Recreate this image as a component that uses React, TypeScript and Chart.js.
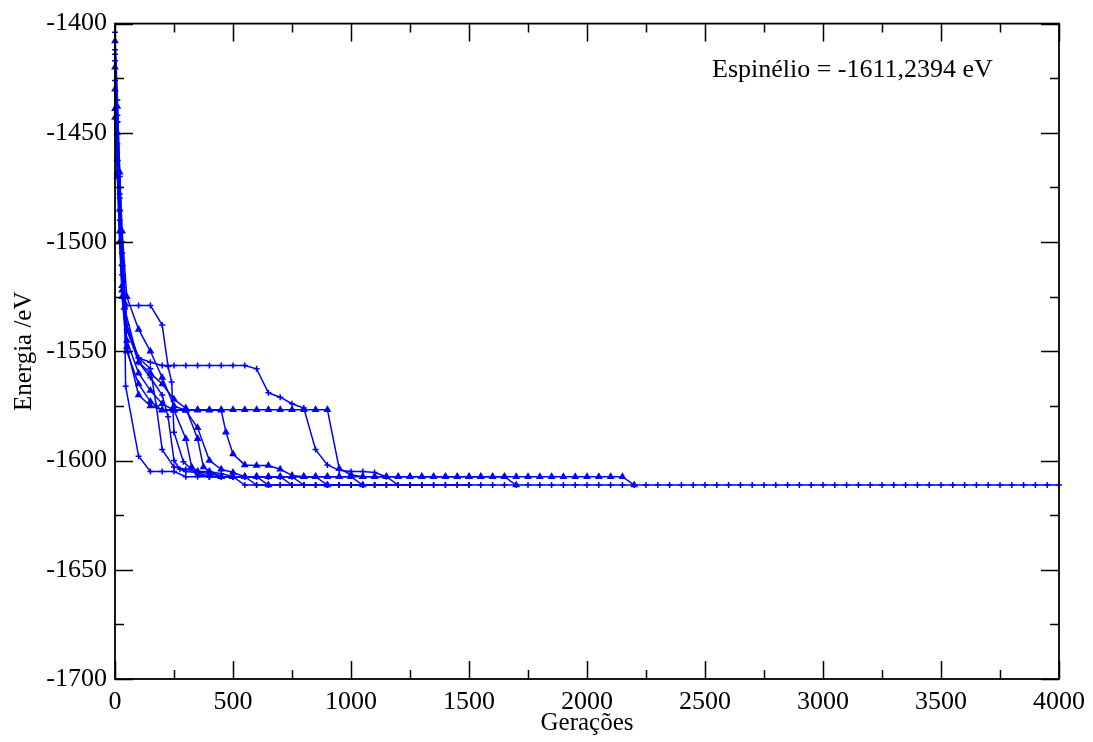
import React, { useEffect, useRef } from "react";
import { Chart, registerables } from "chart.js";
Chart.register(...registerables);

// ---- axis / tick definitions ----
const X_MIN = 0;
const X_MAX = 4000;
const X_MAJOR = 500;
const X_MINOR = 250;
const Y_MIN = -1700;
const Y_MAX = -1400;
const Y_MAJOR = 50;
const Y_MINOR = 25;

const X_TITLE = "Gerações";
const Y_TITLE = "Energia /eV";
const NOTE = "Espinélio = -1611,2394 eV";

// ---- read-off energy levels ----
const E_FINAL = -1611.24;
const E_LEVEL = -1607.4;

type Pt = [number, number];

// run that reaches the spinel minimum first and extends to 4000 generations
const runLong: Pt[] = [
  [0, -1412], [10, -1445], [20, -1478], [30, -1500], [40, -1525], [45, -1566], [100, -1598],
  [150, -1605], [200, -1605], [250, -1605], [300, E_LEVEL], [350, E_LEVEL], [400, E_LEVEL],
  [450, E_LEVEL], [500, E_LEVEL], [550, E_FINAL], [600, E_FINAL], [650, E_FINAL], [700, E_FINAL],
  [750, E_FINAL], [800, E_FINAL], [850, E_FINAL], [900, E_FINAL], [950, E_FINAL], [1000, E_FINAL],
  [1050, E_FINAL], [1100, E_FINAL], [1150, E_FINAL], [1200, E_FINAL], [1250, E_FINAL], [1300, E_FINAL],
  [1350, E_FINAL], [1400, E_FINAL], [1450, E_FINAL], [1500, E_FINAL], [1550, E_FINAL], [1600, E_FINAL],
  [1650, E_FINAL], [1700, E_FINAL], [1750, E_FINAL], [1800, E_FINAL], [1850, E_FINAL], [1900, E_FINAL],
  [1950, E_FINAL], [2000, E_FINAL], [2050, E_FINAL], [2100, E_FINAL], [2150, E_FINAL], [2200, E_FINAL],
  [2250, E_FINAL], [2300, E_FINAL], [2350, E_FINAL], [2400, E_FINAL], [2450, E_FINAL], [2500, E_FINAL],
  [2550, E_FINAL], [2600, E_FINAL], [2650, E_FINAL], [2700, E_FINAL], [2750, E_FINAL], [2800, E_FINAL],
  [2850, E_FINAL], [2900, E_FINAL], [2950, E_FINAL], [3000, E_FINAL], [3050, E_FINAL], [3100, E_FINAL],
  [3150, E_FINAL], [3200, E_FINAL], [3250, E_FINAL], [3300, E_FINAL], [3350, E_FINAL], [3400, E_FINAL],
  [3450, E_FINAL], [3500, E_FINAL], [3550, E_FINAL], [3600, E_FINAL], [3650, E_FINAL], [3700, E_FINAL],
  [3750, E_FINAL], [3800, E_FINAL], [3850, E_FINAL], [3900, E_FINAL], [3950, E_FINAL], [4000, E_FINAL],
];

// run sitting on the -1607 level until ~2150
const run1: Pt[] = [
  [0, -1443], [10, -1470], [20, -1500], [30, -1520], [50, -1545], [100, -1560], [150, -1568], [200, -1574],
  [250, -1577], [300, -1590], [325, -1603], [350, -1605], [400, -1606], [450, E_LEVEL], [500, E_LEVEL],
  [550, E_LEVEL], [600, E_LEVEL], [650, E_LEVEL], [700, E_LEVEL], [750, E_LEVEL], [800, E_LEVEL],
  [850, E_LEVEL], [900, E_LEVEL], [950, E_LEVEL], [1000, E_LEVEL], [1050, E_LEVEL], [1100, E_LEVEL],
  [1150, E_LEVEL], [1200, E_LEVEL], [1250, E_LEVEL], [1300, E_LEVEL], [1350, E_LEVEL], [1400, E_LEVEL],
  [1450, E_LEVEL], [1500, E_LEVEL], [1550, E_LEVEL], [1600, E_LEVEL], [1650, E_LEVEL], [1700, E_LEVEL],
  [1750, E_LEVEL], [1800, E_LEVEL], [1850, E_LEVEL], [1900, E_LEVEL], [1950, E_LEVEL], [2000, E_LEVEL],
  [2050, E_LEVEL], [2100, E_LEVEL], [2150, E_LEVEL], [2200, E_FINAL],
];

// run with the early -1529 plateau
const run2: Pt[] = [
  [0, -1417], [10, -1445], [20, -1480], [30, -1505], [40, -1525], [50, -1529], [100, -1529], [150, -1529],
  [200, -1538], [225, -1557], [240, -1564], [250, -1587], [290, -1600.6], [350, -1606.6],
  [400, E_LEVEL], [450, E_LEVEL], [500, E_LEVEL], [550, E_LEVEL], [600, E_FINAL], [650, E_FINAL],
  [700, E_FINAL], [750, E_FINAL], [800, E_FINAL], [850, E_FINAL], [900, E_FINAL], [950, E_FINAL],
  [1000, E_FINAL], [1050, E_FINAL], [1100, E_FINAL], [1150, E_FINAL], [1200, E_FINAL],
];

// run with the long -1557 plateau
const run3: Pt[] = [
  [0, -1426], [10, -1455], [20, -1490], [30, -1515], [50, -1540], [100, -1553], [150, -1555], [200, -1556.5],
  [250, -1556.5], [300, -1556.5], [350, -1556.5], [400, -1556.5], [450, -1556.5], [500, -1556.5],
  [550, -1556.5], [600, -1558], [650, -1569], [700, -1571], [750, -1574], [800, -1576], [850, -1595],
  [900, -1602], [950, -1604.5], [1000, -1605], [1050, -1605], [1100, -1605.5], [1150, E_LEVEL],
  [1200, E_FINAL], [1250, E_FINAL], [1300, E_FINAL], [1350, E_FINAL], [1400, E_FINAL], [1450, E_FINAL],
  [1500, E_FINAL],
];

// run with the -1577 plateau up to ~900
const run4: Pt[] = [
  [0, -1430], [10, -1462], [20, -1495], [30, -1522], [50, -1548], [100, -1570], [150, -1575], [200, -1576.7],
  [250, -1576.7], [300, -1576.7], [350, -1576.7], [400, -1576.7], [450, -1576.7], [500, -1576.7],
  [550, -1576.7], [600, -1576.7], [650, -1576.7], [700, -1576.7], [750, -1576.7], [800, -1576.7],
  [850, -1576.7], [900, -1576.7], [950, -1603.6], [1000, -1606.5], [1050, E_LEVEL], [1100, E_LEVEL],
  [1150, E_LEVEL], [1200, E_LEVEL], [1250, E_LEVEL], [1300, E_LEVEL], [1350, E_LEVEL], [1400, E_LEVEL],
  [1450, E_LEVEL], [1500, E_LEVEL], [1550, E_LEVEL], [1600, E_LEVEL], [1650, E_LEVEL], [1700, E_FINAL],
];

// run leaving the -1577 level at ~450
const run5: Pt[] = [
  [0, -1439], [10, -1468], [20, -1500], [30, -1525], [50, -1550], [100, -1565], [150, -1573], [200, -1577],
  [250, -1577], [300, -1577], [350, -1577], [400, -1577], [450, -1577], [470, -1587], [500, -1597],
  [550, -1602], [600, -1602.3], [650, -1602.3], [700, -1604], [750, -1606.8], [800, E_LEVEL],
  [850, E_LEVEL], [900, E_FINAL],
];

const run6: Pt[] = [
  [0, -1404], [10, -1435], [20, -1470], [30, -1500], [50, -1540], [100, -1555], [150, -1562], [200, -1570],
  [225, -1580], [250, -1600], [275, -1604], [300, -1605], [350, -1605.5], [400, E_LEVEL],
  [450, E_LEVEL], [500, E_LEVEL], [550, E_LEVEL], [600, E_LEVEL], [650, E_LEVEL], [700, E_LEVEL],
  [750, E_FINAL], [800, E_FINAL], [850, E_FINAL], [900, E_FINAL], [950, E_FINAL], [1000, E_FINAL],
  [1050, E_FINAL], [1100, E_FINAL], [1150, E_FINAL], [1200, E_FINAL], [1250, E_FINAL], [1300, E_FINAL],
];

const run7: Pt[] = [
  [0, -1420], [10, -1450], [20, -1485], [30, -1510], [40, -1530], [100, -1555], [150, -1560], [200, -1565],
  [250, -1572], [300, -1576], [350, -1590], [375, -1603], [400, -1605], [450, E_LEVEL],
  [500, E_LEVEL], [550, E_LEVEL], [600, E_LEVEL], [650, E_FINAL],
];

const run8: Pt[] = [
  [0, -1414], [10, -1442], [20, -1475], [30, -1505], [50, -1538], [100, -1553], [150, -1558], [175, -1575],
  [200, -1595], [250, -1603], [300, -1604], [350, -1605], [400, -1605], [450, -1606], [500, E_LEVEL],
  [550, E_LEVEL], [600, E_LEVEL], [650, E_LEVEL], [700, E_LEVEL], [750, E_LEVEL], [800, E_FINAL],
  [850, E_FINAL], [900, E_FINAL], [950, E_FINAL], [1000, E_FINAL], [1050, E_FINAL], [1100, E_FINAL],
];

const run9: Pt[] = [
  [0, -1408], [10, -1438], [20, -1468], [30, -1495], [50, -1525], [100, -1540], [150, -1550],
  [200, -1562], [250, -1575], [300, -1577], [350, -1585], [400, -1600], [450, -1604], [500, -1605.5],
  [550, E_LEVEL], [600, E_LEVEL], [650, E_LEVEL], [700, E_LEVEL], [750, E_LEVEL], [800, E_LEVEL],
  [850, E_LEVEL], [900, E_LEVEL], [950, E_LEVEL], [1000, E_LEVEL], [1050, E_FINAL],
];

const RUNS: { data: Pt[]; marker: string }[] = [
  { data: run1, marker: "triangle" },
  { data: run4, marker: "triangle" },
  { data: run5, marker: "triangle" },
  { data: run7, marker: "triangle" },
  { data: run9, marker: "triangle" },
  { data: run2, marker: "cross" },
  { data: run3, marker: "cross" },
  { data: run6, marker: "cross" },
  { data: run8, marker: "cross" },
  { data: runLong, marker: "cross" },
];

const BLUE = "#0000ff";
const FONT = '"Liberation Serif", "Times New Roman", serif';

const framePlugin = {
  id: "framePlugin",
  afterDatasetsDraw(chart: any) {
    const { ctx, chartArea: a, scales } = chart;
    const xs = scales.x;
    const ys = scales.y;
    ctx.save();
    ctx.strokeStyle = "#000";
    ctx.lineWidth = 1.8;
    ctx.strokeRect(a.left, a.top, a.right - a.left, a.bottom - a.top);
    ctx.lineWidth = 1.5;
    ctx.beginPath();
    for (let v = X_MIN; v <= X_MAX; v += X_MINOR) {
      const len = v % X_MAJOR === 0 ? 18 : 9;
      const p = Math.round(xs.getPixelForValue(v)) + 0.5;
      ctx.moveTo(p, a.bottom);
      ctx.lineTo(p, a.bottom - len);
      ctx.moveTo(p, a.top);
      ctx.lineTo(p, a.top + len);
    }
    for (let v = Y_MIN; v <= Y_MAX; v += Y_MINOR) {
      const len = (v - Y_MIN) % Y_MAJOR === 0 ? 18 : 9;
      const p = Math.round(ys.getPixelForValue(v)) + 0.5;
      ctx.moveTo(a.left, p);
      ctx.lineTo(a.left + len, p);
      ctx.moveTo(a.right, p);
      ctx.lineTo(a.right - len, p);
    }
    ctx.stroke();

    ctx.fillStyle = "#000";
    ctx.font = `26px ${FONT}`;
    ctx.textAlign = "left";
    ctx.textBaseline = "alphabetic";
    ctx.fillText(NOTE, 712, 77);

    ctx.font = `25px ${FONT}`;
    ctx.textAlign = "center";
    ctx.fillText(X_TITLE, (a.left + a.right) / 2, 730);
    ctx.translate(31, (a.top + a.bottom) / 2);
    ctx.rotate(-Math.PI / 2);
    ctx.fillText(Y_TITLE, 0, 0);
    ctx.restore();
  },
};

export default function App() {
  const ref = useRef<HTMLCanvasElement | null>(null);
  useEffect(() => {
    if (!ref.current) return;
    const chart = new Chart(ref.current, {
      type: "scatter",
      data: {
        datasets: RUNS.map((r) => ({
          data: r.data.map(([x, y]) => ({ x, y })),
          showLine: true,
          borderColor: BLUE,
          backgroundColor: BLUE,
          borderWidth: 1.5,
          pointStyle: r.marker as any,
          pointRadius: 3,
          pointBorderWidth: 1.5,
          pointBorderColor: BLUE,
          pointBackgroundColor: BLUE,
          tension: 0,
          clip: false as any,
        })),
      },
      options: {
        responsive: false,
        animation: false,
        events: [],
        layout: { padding: { top: 18, right: 34, left: 0, bottom: 0 } },
        plugins: { legend: { display: false }, tooltip: { enabled: false } },
        scales: {
          x: {
            type: "linear",
            min: X_MIN,
            max: X_MAX,
            grid: { display: false, drawTicks: false },
            border: { display: false },
            ticks: {
              stepSize: X_MAJOR,
              color: "#000",
              padding: 8,
              maxRotation: 0,
              font: { family: FONT, size: 26 },
              callback: (v: any) => String(v),
            },
            afterFit: (s: any) => {
              s.height = 63;
            },
          },
          y: {
            type: "linear",
            min: Y_MIN,
            max: Y_MAX,
            grid: { display: false, drawTicks: false },
            border: { display: false },
            ticks: {
              stepSize: Y_MAJOR,
              color: "#000",
              padding: 8,
              font: { family: FONT, size: 26 },
              callback: (v: any) => String(v),
            },
            afterFit: (s: any) => {
              s.width = 115;
            },
          },
        },
      },
      plugins: [framePlugin],
    });
    return () => chart.destroy();
  }, []);
  return (
    <div style={{ position: "fixed", left: 0, top: 0, width: 1093, height: 742, background: "#fff" }}>
      <canvas ref={ref} width={1093} height={742} style={{ display: "block" }} />
    </div>
  );
}
